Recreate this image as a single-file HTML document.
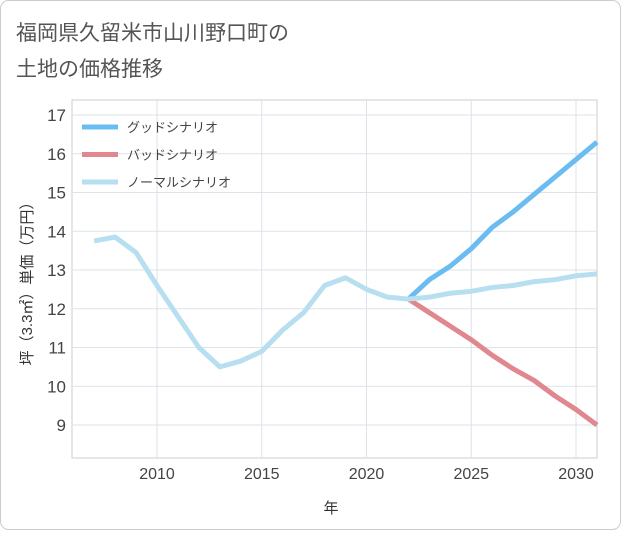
<!DOCTYPE html>
<html><head><meta charset="utf-8"><style>
body{margin:0;background:#fff;font-family:"Liberation Sans","Noto Sans CJK JP",sans-serif;}
#c{position:relative;width:621px;height:530px;}
</style></head><body>
<div id="c">
<svg id="s" width="621" height="530" xmlns="http://www.w3.org/2000/svg">
<rect x="0.5" y="0.5" width="620" height="529" rx="8" fill="#fff" stroke="#ccc"/>
<text x="16" y="40" font-size="21" fill="#555">福岡県久留米市山川野口町の</text>
<text x="16" y="76" font-size="21" fill="#555">土地の価格推移</text>
<g id="grid"></g><g id="marks"></g>
<text x="331" y="513" font-size="15" fill="#333" text-anchor="middle">年</text>
<text transform="translate(32,280) rotate(-90)" font-size="15" fill="#333" text-anchor="middle">坪（3.3㎡）単価（万円）</text>
</svg></div>
<script>
const years=[2007,2008,2009,2010,2011,2012,2013,2014,2015,2016,2017,2018,2019,2020,2021,2022,2023,2024,2025,2026,2027,2028,2029,2030,2031];
const normal=[13.75,13.85,13.45,12.6,11.8,11.0,10.5,10.65,10.9,11.45,11.9,12.6,12.8,12.5,12.3,12.25,12.3,12.4,12.45,12.55,12.6,12.7,12.75,12.85,12.9];
const goodYears=[2022,2023,2024,2025,2026,2027,2028,2029,2030,2031];
const good=[12.25,12.75,13.1,13.55,14.1,14.5,14.95,15.4,15.85,16.3];
const bad=[12.25,11.9,11.55,11.2,10.8,10.45,10.15,9.75,9.4,9.0];
const yTicks=[9,10,11,12,13,14,15,16,17];
const xTicks=[2010,2015,2020,2025,2030];
const legendLabels=["グッドシナリオ","バッドシナリオ","ノーマルシナリオ"];
const NS="http://www.w3.org/2000/svg";
const L=72,R=597,T=100,B=458;
const X=v=>157+(v-2010)*(576-157)/20;
const Y=v=>425-(v-9)*(425-115)/8;
const grid=document.getElementById('grid'),marks=document.getElementById('marks');
function mk(tag,at,p){const e=document.createElementNS(NS,tag);for(const k in at)e.setAttribute(k,at[k]);p.appendChild(e);return e;}
const pa=mk('rect',{x:L,y:T,width:R-L,height:B-T,fill:'#fff',stroke:'#ccc'},grid);


yTicks.forEach(v=>{const l=mk('line',{x1:L,x2:R,y1:Y(v),y2:Y(v),stroke:'#dde3ea'},grid);


const t=mk('text',{x:L-6,y:Y(v)+6,'font-size':17,fill:'#444','text-anchor':'end'},grid);t.textContent=v;

});
xTicks.forEach(v=>{const l=mk('line',{x1:X(v),x2:X(v),y1:T,y2:B,stroke:'#dde3ea'},grid);


const t=mk('text',{x:X(v),y:B+21,'font-size':16,fill:'#444','text-anchor':'middle'},grid);t.textContent=v;

});
function line(xs,vs,col,name){const d=xs.map((x,i)=>(i?'L':'M')+X(x)+','+Y(vs[i])).join('');
const p=mk('path',{d:d,fill:'none',stroke:col,'stroke-width':5,'stroke-linejoin':'round'},marks);

}
line(goodYears,bad,'#e0888e','bad-scenario-line');
line(goodYears,good,'#6bbcf0','good-scenario-line');
line(years,normal,'#b8dff0','normal-scenario-line');
const cols=['#6bbcf0','#e0888e','#b8dff0'];
legendLabels.forEach((s,i)=>{const y=127+i*27.5;
const l=mk('line',{x1:82,x2:118,y1:y,y2:y,stroke:cols[i],'stroke-width':5},marks);


const t=mk('text',{x:127,y:y+5,'font-size':13,fill:'#444'},marks);t.textContent=s;

});
</script>
</body></html>
